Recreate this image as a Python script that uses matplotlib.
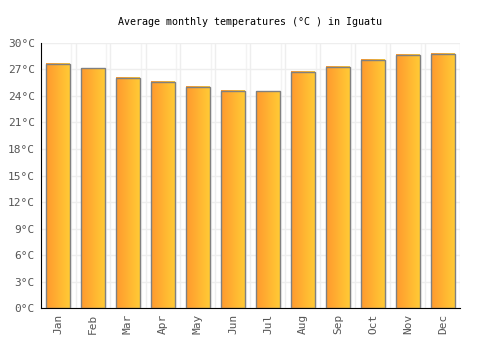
import numpy as np
import matplotlib.pyplot as plt
from matplotlib.colors import LinearSegmentedColormap

months = ['Jan', 'Feb', 'Mar', 'Apr', 'May', 'Jun',
          'Jul', 'Aug', 'Sep', 'Oct', 'Nov', 'Dec']
temps = [27.6, 27.1, 26.0, 25.6, 25.0, 24.6, 24.5, 26.7, 27.3, 28.1, 28.6, 28.7]
yticks = [0, 3, 6, 9, 12, 15, 18, 21, 24, 27, 30]

plt.rcParams['font.family'] = ['DejaVu Sans Mono']

fig = plt.figure(figsize=(5, 3.5), dpi=100)
ax = fig.add_axes([0.081, 0.119, 0.84, 0.759])

x = np.arange(len(months))
bars = ax.bar(x, temps, width=0.66, facecolor='none', edgecolor='#808080',
              linewidth=1.0, zorder=3)

cmap = LinearSegmentedColormap.from_list('grad', ['#ff9a2e', '#ffca35'])
grad = np.linspace(0, 1, 64).reshape(1, -1)
for b in bars:
    x0, y0 = b.get_x(), b.get_y()
    ax.imshow(grad, cmap=cmap, aspect='auto', zorder=2,
              extent=[x0, x0 + b.get_width(), y0, y0 + b.get_height()])

ax.set_xlim(-0.5, len(months) - 0.5)
ax.set_ylim(0, 30)
ax.set_yticks(yticks)
ax.set_yticklabels([f'{t}°C' for t in yticks])
ax.set_xticks(x)
ax.set_xticklabels(months, rotation=90)

# vertical grid: category boundaries plus a faint companion line
for b in np.arange(0.5, len(months) - 0.5, 1):
    ax.axvline(b, color='#eeeeee', linewidth=1, zorder=0)
    ax.axvline(b - 0.14, color='#f3f3f3', linewidth=1, zorder=0)
ax.axvline(len(months) - 0.5, color='#eeeeee', linewidth=1, zorder=0)
ax.grid(which='major', axis='y', color='#eeeeee', linewidth=1, zorder=0)
ax.tick_params(which='both', length=0)
ax.tick_params(axis='both', labelsize=8, colors='#555555', pad=4)

for s in ['top', 'right']:
    ax.spines[s].set_visible(False)
ax.spines['left'].set_color('black')
ax.spines['bottom'].set_color('black')

ax.set_title('Average monthly temperatures (°C ) in Iguatu', fontsize=7.2, pad=13)

fig.savefig('out.png', dpi=100)
